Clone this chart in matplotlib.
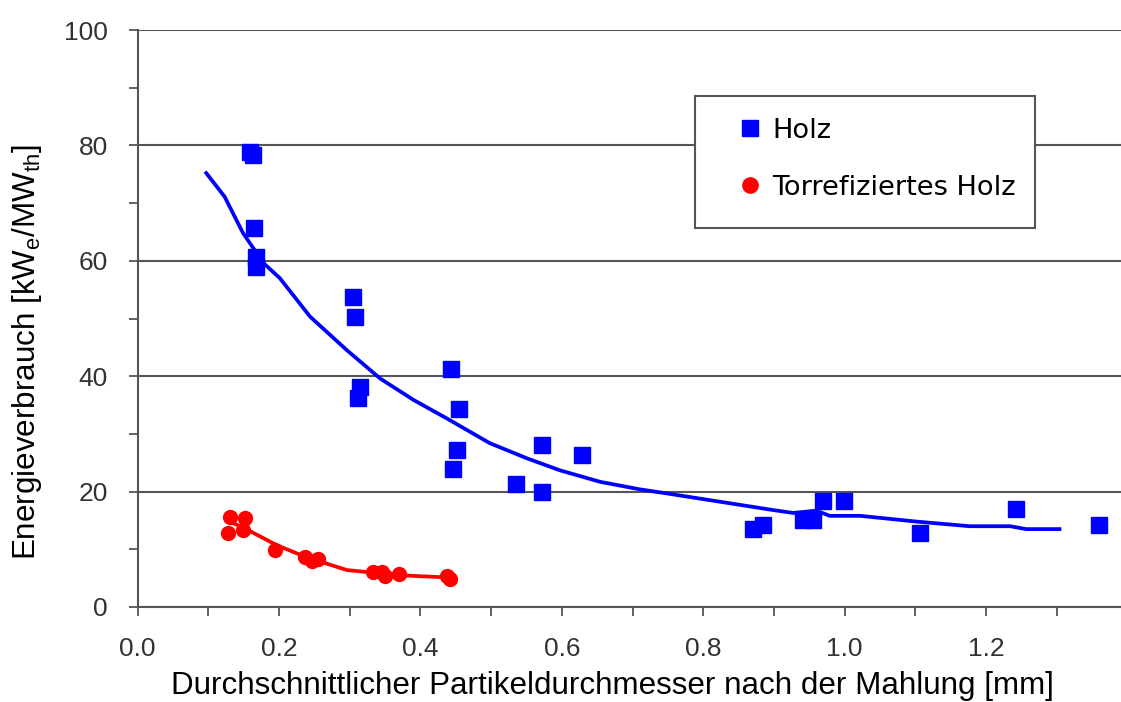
import matplotlib
matplotlib.use("Agg")
import matplotlib.pyplot as plt
from matplotlib.lines import Line2D
from matplotlib.patches import Rectangle
from matplotlib.ticker import MultipleLocator

plt.rcParams["font.family"] = "Liberation Sans"
plt.rcParams["mathtext.fontset"] = "custom"
plt.rcParams["mathtext.rm"] = "Liberation Sans"

# Holz (wood) measurements
holz_x = [0.159, 0.163, 0.165, 0.168, 0.168, 0.304, 0.307, 0.314, 0.312,
          0.443, 0.454, 0.451, 0.446, 0.535, 0.572, 0.572, 0.628,
          0.871, 0.884, 0.941, 0.955, 0.969, 0.999, 1.106, 1.242, 1.360]
holz_y = [78.9, 78.3, 65.7, 60.7, 59.0, 53.8, 50.3, 38.1, 36.2,
          41.2, 34.4, 27.2, 24.0, 21.4, 28.1, 20.0, 26.3,
          13.6, 14.2, 15.1, 15.1, 18.4, 18.4, 12.8, 16.9, 14.2]

# Holz trend curve
holz_fit_x = [0.097, 0.123, 0.149, 0.178, 0.201, 0.244, 0.296, 0.343, 0.390,
              0.437, 0.498, 0.550, 0.597, 0.654, 0.710, 0.753, 0.899, 0.927,
              0.960, 0.979, 1.022, 1.102, 1.177, 1.234, 1.257, 1.304]
holz_fit_y = [75.2, 71.1, 64.8, 59.6, 57.0, 50.3, 44.5, 39.6, 35.9,
              32.7, 28.4, 25.8, 23.7, 21.7, 20.4, 19.6, 16.8, 16.3,
              16.7, 15.8, 15.8, 14.8, 14.0, 14.0, 13.5, 13.5]

# Torrefiziertes Holz measurements
torr_x = [0.131, 0.128, 0.152, 0.149, 0.194, 0.237, 0.246, 0.255,
          0.333, 0.345, 0.350, 0.370, 0.437, 0.442]
torr_y = [15.6, 12.8, 15.4, 13.3, 9.9, 8.7, 7.9, 8.4,
          6.1, 6.1, 5.3, 5.8, 5.3, 4.8]

# Torrefiziertes Holz trend curve
torr_fit_x = [0.130, 0.147, 0.197, 0.237, 0.296, 0.371, 0.442]
torr_fit_y = [14.8, 13.9, 10.7, 8.7, 6.4, 5.5, 5.1]

fig = plt.figure(figsize=(11.21, 7.02), dpi=100)
ax = fig.add_axes([137.7 / 1121, 1 - 607 / 702, 1 - 137.7 / 1121, (607 - 30) / 702])

grid_col = "#555555"
ax.set_xlim(0, 1.391)
ax.set_ylim(0, 100)
ax.yaxis.set_major_locator(MultipleLocator(20))
ax.yaxis.set_minor_locator(MultipleLocator(10))
ax.xaxis.set_major_locator(MultipleLocator(0.2))
ax.xaxis.set_minor_locator(MultipleLocator(0.1))
ax.xaxis.set_major_formatter(plt.FuncFormatter(lambda v, p: f"{v:.1f}" if v < 1.25 else ""))
ax.grid(axis="y", which="major", color=grid_col, lw=1.5)
ax.set_axisbelow(True)
for s in ["top", "right"]:
    ax.spines[s].set_visible(False)
for s in ["left", "bottom"]:
    ax.spines[s].set_color(grid_col)
    ax.spines[s].set_linewidth(1.5)
ax.tick_params(which="both", direction="out", length=6.5, width=1.3, color=grid_col)
ax.tick_params(which="major", labelsize=19, labelcolor="#333333", pad=15)

ax.plot(holz_fit_x, holz_fit_y, color="#0000ff", lw=2.7, zorder=3)
ax.plot(holz_x, holz_y, ls="none", marker="s", ms=11.5, color="#0000ff", zorder=4)
ax.plot(torr_fit_x, torr_fit_y, color="#ff0000", lw=2.7, zorder=3)
ax.plot(torr_x, torr_y, ls="none", marker="o", ms=10, color="#ff0000", zorder=4)

# legend box
fig.patches.append(Rectangle((695 / 1121, 1 - 228 / 702), 340 / 1121, 132 / 702,
                             transform=fig.transFigure, facecolor="white",
                             edgecolor=grid_col, lw=1.5, zorder=5))
handles = [Line2D([], [], ls="none", marker="s", ms=11, color="#0000ff"),
           Line2D([], [], ls="none", marker="o", ms=11, color="#ff0000")]
leg = fig.legend(handles, ["Holz", "Torrefiziertes Holz"], loc="center left",
                 bbox_to_anchor=(736.6 / 1121, 1 - 159.2 / 702),
                 frameon=False, borderpad=0, borderaxespad=0,
                 handlelength=1.0, handletextpad=0.3, labelspacing=1.15,
                 prop={"family": "DejaVu Sans", "size": 19.6})
leg.set_zorder(6)

fig.text(612 / 1121, 1 - 694 / 702,
         "Durchschnittlicher Partikeldurchmesser nach der Mahlung [mm]",
         ha="center", va="baseline", fontsize=22.6)
fig.text(27 / 1121, 1 - 352 / 702,
         r"Energieverbrauch [kW$_\mathregular{e}$/MW$_\mathregular{th}$]",
         ha="center", va="center", rotation=90, fontsize=22.6)

fig.savefig("out.png", dpi=100)
